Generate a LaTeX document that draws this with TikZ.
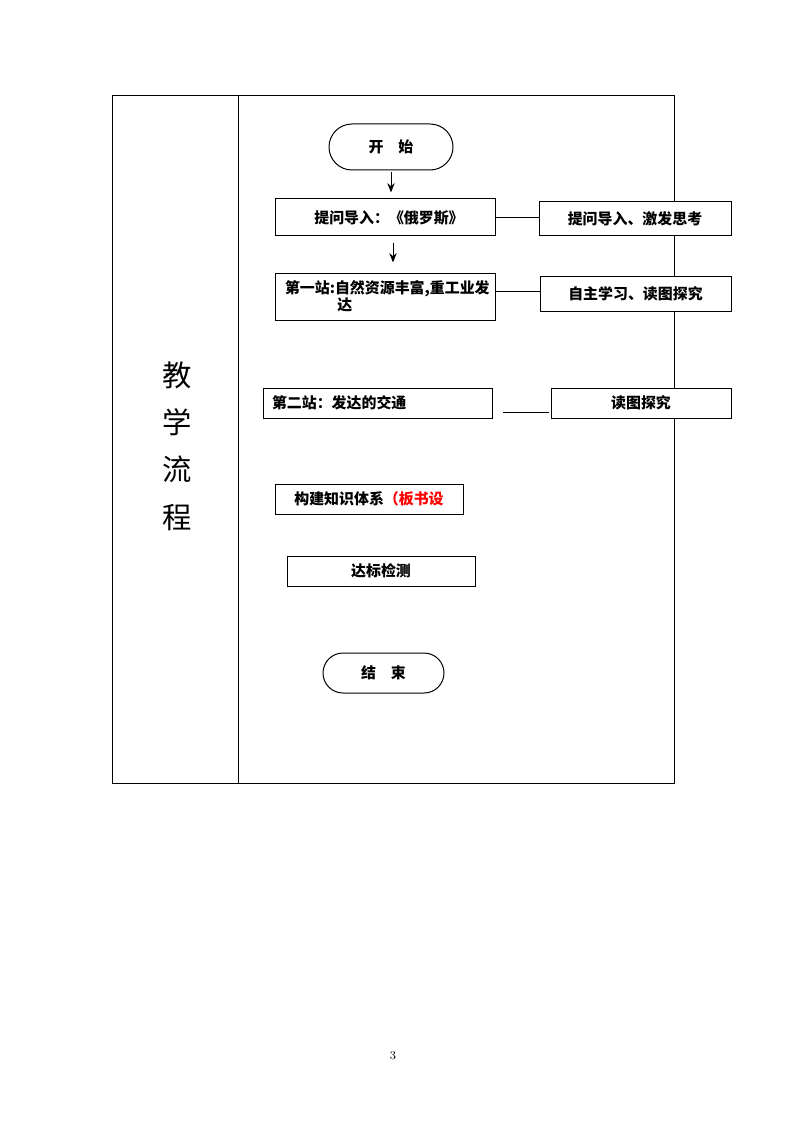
\documentclass[tikz,border=0pt]{standalone}
\usepackage{fontspec}
\newfontfamily\cjk{Noto Sans CJK SC}
\usetikzlibrary{shapes.misc,arrows.meta}
\begin{document}
\begin{tikzpicture}[x=0.75pt,y=-0.75pt,
  lbl/.style={font=\cjk\bfseries\fontsize{11.2pt}{12.8pt}\selectfont},
  box/.style={draw,fill=white,line width=0.75pt,rectangle,inner sep=0pt,lbl},
  term/.style={draw,fill=white,line width=0.75pt,rounded rectangle,inner sep=0pt,lbl},
  conn/.style={line width=0.75pt},
  arr/.style={line width=0.75pt,-{Stealth[length=7pt,width=5.5pt]}}]
\useasboundingbox (0,0) rectangle (794,1123);
% table frame
\draw[line width=0.75pt] (112,96) rectangle (674,783);
\draw[line width=0.75pt] (238,96) -- (238,783);
\node[font=\cjk\fontsize{22pt}{35.5pt}\selectfont,align=center] (title) at (177,446) {教\\学\\流\\程};
% nodes
\node[term,minimum width=124*0.75pt,minimum height=46*0.75pt] (start) at (391,147) {开\hspace{1em}始};
\node[box,minimum width=220*0.75pt,minimum height=37*0.75pt] (b1) at (385,217.5) {\hspace{6pt}提问导入：《俄罗斯》};
\node[box,minimum width=192*0.75pt,minimum height=34*0.75pt] (r1) at (635,219) {提问导入、激发思考};
\node[box,minimum width=220*0.75pt,minimum height=47*0.75pt,text width=200*0.75pt,inner xsep=10*0.75pt,align=left] (b2) at (385,296.5) {第一站:自然资源丰富,重工业发\\\hspace*{3.5em}达};
\node[box,minimum width=191*0.75pt,minimum height=35*0.75pt] (r2) at (635.5,293.5) {自主学习、读图探究};
\node[box,minimum width=229*0.75pt,minimum height=30*0.75pt,text width=211*0.75pt,inner xsep=9*0.75pt,align=left] (b3) at (377.5,403) {第二站：发达的交通};
\node[box,minimum width=180*0.75pt,minimum height=30*0.75pt] (r3) at (641,403) {读图探究};
\node[box,minimum width=188*0.75pt,minimum height=30*0.75pt] (b4) at (369,499) {构建知识体系\textcolor{red}{（板书设}};
\node[box,minimum width=188*0.75pt,minimum height=30*0.75pt] (b5) at (381,571) {达标检测};
\node[term,minimum width=121*0.75pt,minimum height=40*0.75pt] (end) at (383.5,673) {结\hspace{1em}束};
% connectors
\draw[arr,shorten <=1pt,shorten >=4.5pt] (start.south) -- (start.south |- b1.north);
\draw[arr,shorten <=4.5pt,shorten >=7.5pt] ([xshift=6pt]b1.south) -- ([xshift=6pt]b2.north);
\draw[conn] (b1.east) -- (b1.east -| r1.west);
\draw[conn] ([yshift=3.4pt]b2.east) -- ([yshift=3.4pt]b2.east -| r2.west);
\coordinate (l3a) at (503,412);
\coordinate (l3b) at (549,412);
\draw[conn] (l3a) -- (l3b);
% page number
\node[font=\fontsize{9pt}{10pt}\selectfont] (pg) at (393,1056) {3};
\end{tikzpicture}
\end{document}
